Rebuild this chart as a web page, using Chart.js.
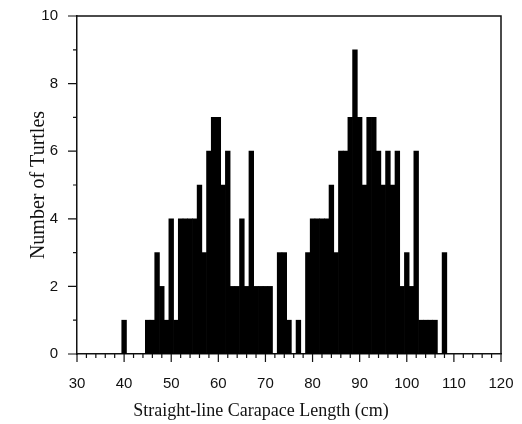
<!DOCTYPE html>
<html lang="en">
<head>
    <meta charset="UTF-8">
    <title>Turtle carapace length histogram</title>
    <script src="https://cdn.jsdelivr.net/npm/chart.js@4.4.0/dist/chart.umd.min.js"></script>
    <style>
        body {
            margin: 0;
            padding: 0;
            background: #fff;
        }
        .chart-box {
            width: 522px;
            height: 424px;
        }
    </style>
</head>
<body>
    <div class="chart-box">
        <canvas id="hist"></canvas>
    </div>

<script>
// carapace length bins (cm), one per centimetre
const lengths = [];
for (let cm = 40; cm <= 108; cm++) lengths.push(cm);

// number of turtles in each bin
const turtles = [
    1, 0, 0, 0, 0, 1, 1, 3, 2, 1,      // 40-49
    4, 1, 4, 4, 4, 4, 5, 3, 6, 7,      // 50-59
    7, 5, 6, 2, 2, 4, 2, 6, 2, 2,      // 60-69
    2, 2, 0, 3, 3, 1, 0, 1, 0, 3,      // 70-79
    4, 4, 4, 4, 5, 3, 6, 6, 7, 9,      // 80-89
    7, 5, 7, 7, 6, 5, 6, 5, 6, 2,      // 90-99
    3, 2, 6, 1, 1, 1, 1, 0, 3          // 100-108
];

const xTicks = [30, 40, 50, 60, 70, 80, 90, 100, 110, 120];
const yTicks = [0, 2, 4, 6, 8, 10];

const ink = '#111';
const sansFont = "'Liberation Sans', Arial, sans-serif";
const serifFont = "'Liberation Serif', 'Times New Roman', serif";

// minor/major tick marks and the top/right frame
const frameTicks = {
    id: 'frameTicks',
    afterDraw(chart) {
        const ctx = chart.ctx;
        const area = chart.chartArea;
        const xs = chart.scales.x;
        const ys = chart.scales.y;
        ctx.save();
        ctx.strokeStyle = ink;
        ctx.lineWidth = 1.2;
        ctx.beginPath();
        for (let v = xTicks[0]; v <= xTicks[xTicks.length - 1]; v += 2) {
            const px = xs.getPixelForValue(v);
            const len = v % 10 === 0 ? 8 : 4;
            ctx.moveTo(px, area.bottom);
            ctx.lineTo(px, area.bottom + len);
        }
        for (let v = yTicks[0]; v <= yTicks[yTicks.length - 1]; v += 1) {
            const py = ys.getPixelForValue(v);
            const len = v % 2 === 0 ? 9 : 4;
            ctx.moveTo(area.left, py);
            ctx.lineTo(area.left - len, py);
        }
        ctx.stroke();
        ctx.lineWidth = 1.5;
        ctx.beginPath();
        ctx.moveTo(area.left, area.top);
        ctx.lineTo(area.right, area.top);
        ctx.lineTo(area.right, area.bottom);
        ctx.stroke();
        ctx.restore();
    }
};

new Chart(document.getElementById('hist'), {
    type: 'bar',
    data: {
        datasets: [{
            data: lengths.map((cm, i) => ({ x: cm, y: turtles[i] })),
            backgroundColor: '#000',
            borderWidth: 0,
            barPercentage: 1,
            categoryPercentage: 1
        }]
    },
    options: {
        responsive: true,
        maintainAspectRatio: false,
        animation: false,
        devicePixelRatio: 1,
        layout: { padding: 0 },
        plugins: {
            legend: { display: false },
            tooltip: { enabled: false },
            title: {
                display: true,
                position: 'bottom',
                text: 'Straight-line Carapace Length (cm)',
                color: ink,
                font: { family: serifFont, size: 18, weight: 'normal' },
                padding: { top: 2, bottom: 2 }
            }
        },
        scales: {
            x: {
                type: 'linear',
                min: 30,
                max: 120,
                offset: false,
                grid: { display: false, drawTicks: false },
                border: { display: true, color: ink, width: 1.5 },
                ticks: {
                    stepSize: 10,
                    color: ink,
                    padding: 21,
                    maxRotation: 0,
                    font: { family: sansFont, size: 15 }
                },
                afterFit(scale) {
                    scale.height = 44.4;
                    scale.paddingLeft = 0;
                    scale.paddingRight = 21;
                }
            },
            y: {
                min: 0,
                max: 10,
                grid: { display: false, drawTicks: false },
                border: { display: true, color: ink, width: 1.5 },
                ticks: {
                    stepSize: 2,
                    color: ink,
                    padding: 19,
                    font: { family: sansFont, size: 15 }
                },
                title: {
                    display: true,
                    text: 'Number of Turtles',
                    color: ink,
                    font: { family: serifFont, size: 20 },
                    padding: { top: 27, bottom: 0 }
                },
                afterFit(scale) {
                    scale.width = 77;
                    scale.paddingTop = 16;
                    scale.paddingBottom = 0;
                }
            }
        }
    },
    plugins: [frameTicks]
});
</script>
</body>
</html>
